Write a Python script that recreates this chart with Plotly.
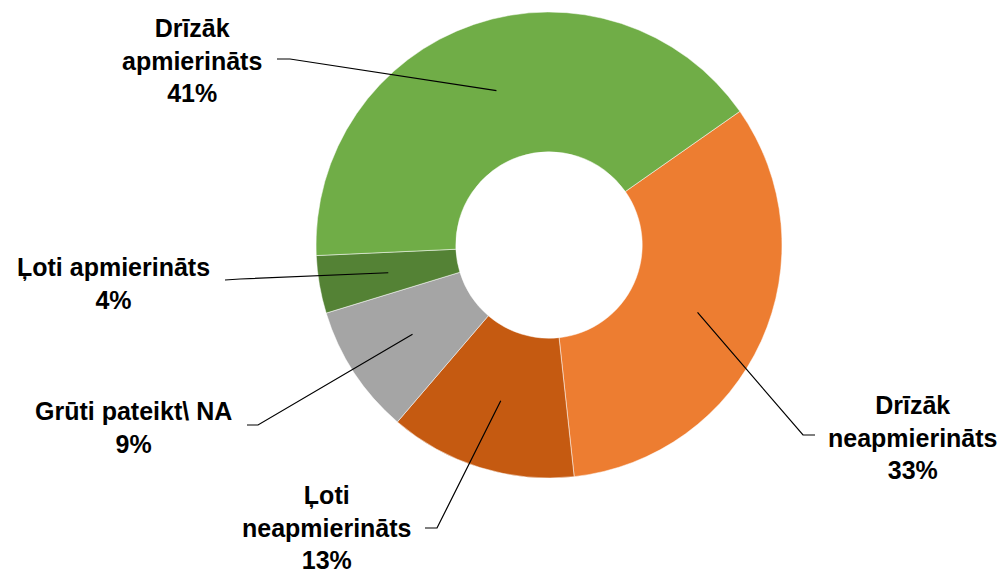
import math
import plotly.graph_objects as go

# ---- data (clockwise order, starting at the upper-right boundary) ----
categories = ["Drīzāk neapmierināts", "Ļoti neapmierināts", "Grūti pateikt\\ NA",
              "Ļoti apmierināts", "Drīzāk apmierināts"]
values = [33, 13, 9, 4, 41]
label_text = ["Drīzāk<br>neapmierināts", "Ļoti<br>neapmierināts", "Grūti pateikt\\ NA",
              "Ļoti apmierināts", "Drīzāk<br>apmierināts"]
colors = ["#ED7D31", "#C55A11", "#A5A5A5", "#548235", "#70AD47"]

# ---- layout constants (pixels) ----
W, H = 1006, 572
CX, CY, R = 549, 245, 233
HOLE = 0.4
ROTATION = 55
FONT = dict(family="Liberation Sans, Arial, sans-serif", size=25, color="#000000")

# label block centres and leader-line elbow / end points
label_pos = [(913, 437), (327, 527), (133, 427), (113, 283), (192, 60)]
elbows = [((803, 435), (815, 435)),
          ((437, 528), (425, 528)),
          ((258, 425), (247, 425)),
          ((240, 279), (225, 280)),
          ((290, 59), (277, 59))]

fig = go.Figure(go.Pie(
    labels=categories,
    values=values,
    marker=dict(colors=colors, line=dict(color="#FFFFFF", width=0.5)),
    hole=HOLE,
    sort=False,
    direction="clockwise",
    rotation=ROTATION,
    textinfo="none",
    hoverinfo="skip",
    showlegend=False,
    domain=dict(x=[(CX - R) / W, (CX + R) / W],
                y=[1 - (CY + R) / H, 1 - (CY - R) / H]),
))


def px2paper(p):
    return p[0] / W, 1 - p[1] / H


total = sum(values)
cum = 0.0
r_mid = R * (1 + HOLE) / 2
annotations = []
shapes = []
for i, v in enumerate(values):
    mid = ROTATION + 360.0 * (cum + v / 2) / total
    cum += v
    th = math.radians(mid)
    start = (CX + r_mid * math.sin(th), CY - r_mid * math.cos(th))
    (e1, e2) = elbows[i]
    pts = [px2paper(start), px2paper(e1), px2paper(e2)]
    path = "M {} {} L {} {} L {} {}".format(pts[0][0], pts[0][1], pts[1][0], pts[1][1],
                                            pts[2][0], pts[2][1])
    shapes.append(dict(type="path", path=path, xref="paper", yref="paper",
                       line=dict(color="#000000", width=1.2)))
    lx, ly = px2paper(label_pos[i])
    annotations.append(dict(
        x=lx, y=ly, xref="paper", yref="paper",
        text="<b>{}<br>{}%</b>".format(label_text[i], v),
        showarrow=False, xanchor="center", yanchor="middle", align="center",
        font=FONT,
    ))

fig.update_layout(
    width=W, height=H,
    margin=dict(l=0, r=0, t=0, b=0),
    paper_bgcolor="#FFFFFF",
    plot_bgcolor="#FFFFFF",
    annotations=annotations,
    shapes=shapes,
)

fig.write_html(
    "out.html",
    config={"displayModeBar": False},
    post_script="document.body.style.margin='0';document.body.style.overflow='hidden';",
)
